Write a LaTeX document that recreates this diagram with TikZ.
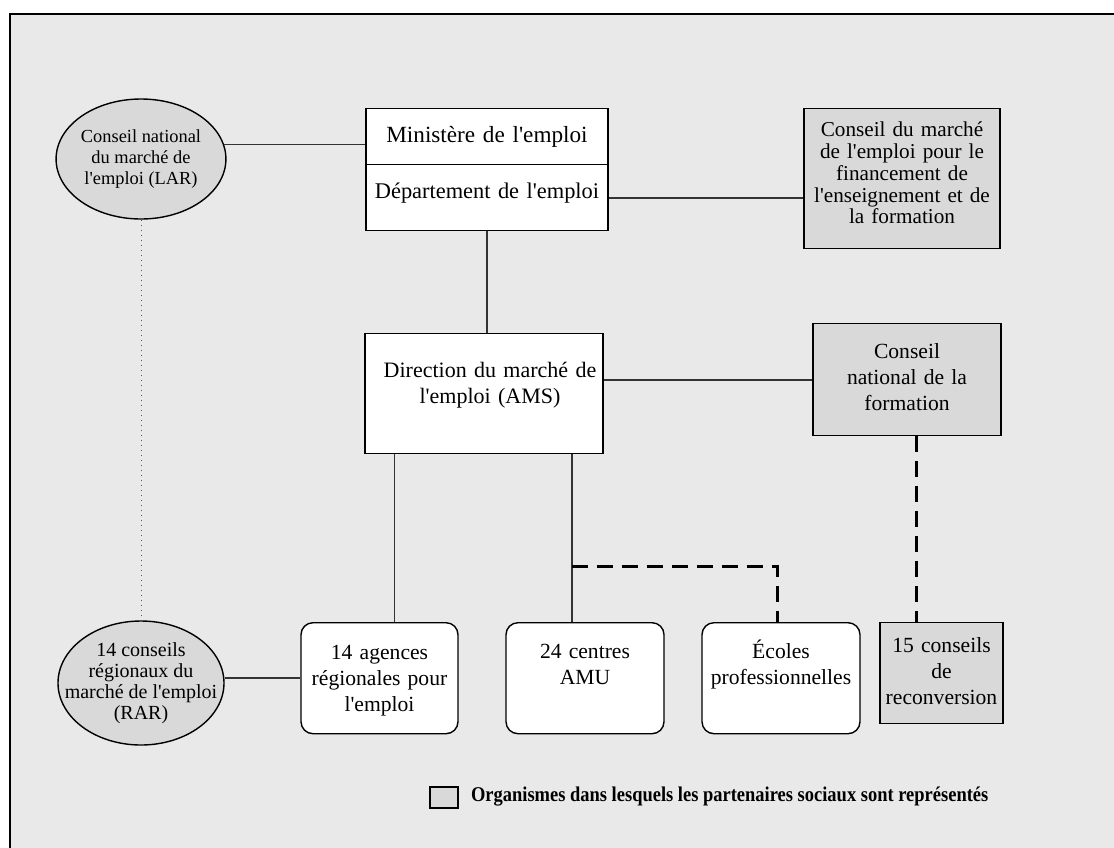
\documentclass[tikz,border=0pt]{standalone}
\usepackage{fontspec}
\setmainfont{Liberation Serif}[Ligatures=TeXOff]
\newfontfamily\keyfont{Liberation Serif}[FakeStretch=0.88, Ligatures=TeXOff]
\usetikzlibrary{shapes.geometric, calc}
\definecolor{cBack}{HTML}{E9E9E9}
\definecolor{cSoc} {HTML}{D9D9D9}
\definecolor{cLine}{HTML}{333333}
\tikzset{
  box/.style={draw=black, line width=0.7pt, anchor=north, align=center,
              inner xsep=0pt, inner ysep=0pt,
              font=\fontsize{10.8}{13}\selectfont},
  dims/.style n args={3}{text width=#1, text height=#2, text depth=#3},
  whitebox/.style={box, fill=white},
  socbox/.style  ={box, fill=cSoc},
  roundbox/.style={whitebox, rounded corners=6pt},
  conseil/.style ={ellipse, draw=black, line width=0.7pt, fill=cSoc,
                   align=center, inner sep=0pt},
  keybox/.style  ={draw=black, line width=0.7pt, fill=cSoc, inner sep=0pt,
                   minimum width=14pt, minimum height=10.5pt},
  link/.style    ={draw=cLine, line width=0.8pt},
  dashlink/.style={draw=black, line width=1.5pt, dash pattern=on 8pt off 4.5pt},
  dotlink/.style ={draw=gray!70!black, line width=0.5pt, dotted},
}

\begin{document}
\begin{tikzpicture}[x=0.5pt, y=-0.5pt]
\useasboundingbox (0,0) rectangle (1114,847);
\clip (0,0) rectangle (1114,847);

% ── Background and frame ──────────────────────────────────────────────────────
\fill[cBack] (10,14) rectangle (1130,870);
\draw[line width=1pt] (10,870) -- (10,14) -- (1130,14);

% ── Top row ───────────────────────────────────────────────────────────────────
\node[conseil, minimum width=84pt, minimum height=60pt,
      font=\fontsize{9.2}{10.5}\selectfont] (lar) at (141,159)
  {Conseil national\\du marché de\\l'emploi (LAR)};

\node[whitebox, dims={121pt}{17pt}{11pt},
      font=\fontsize{11.6}{13}\selectfont] (min) at (487,108)
  {Ministère de l'emploi};

\node[whitebox, dims={121pt}{17pt}{16pt},
      font=\fontsize{11.2}{13}\selectfont] (dep) at (487,164)
  {Département de l'emploi};

\node[socbox, dims={98pt}{14pt}{56pt},
      font=\fontsize{10.6}{10.9}\selectfont] (cme) at (902,108)
  {Conseil du marché\\de l'emploi pour le\\financement de\\l'enseignement et de\\la formation};

% ── Middle row ────────────────────────────────────────────────────────────────
\node[whitebox, dims={119pt}{22pt}{38pt},
      font=\fontsize{11}{13}\selectfont] (dir) at (484,333)
  {\hspace*{6pt}Direction du marché de\\\hspace*{6pt}l'emploi (AMS)};

\node[socbox, dims={94pt}{17.5pt}{38.5pt}] (cnf) at (907,323)
  {Conseil\\national de la\\formation};

% ── Bottom row ────────────────────────────────────────────────────────────────
\node[conseil, minimum width=83pt, minimum height=62pt, inner xsep=-12.4pt,
      font=\fontsize{10}{10.5}\selectfont] (rar) at (141,683)
  {14 conseils\\régionaux du\\marché de l'emploi\\(RAR)};

\node[roundbox, dims={78.5pt}{18.5pt}{37pt}] (agences) at (379.5,622)
  {14 agences\\régionales pour\\l'emploi};

\node[roundbox, dims={79pt}{18pt}{37.5pt}] (centres) at (585,622)
  {24 centres\\AMU\hspace*{4pt}};

\node[roundbox, dims={79pt}{18pt}{37.5pt}] (ecoles) at (781,622)
  {Écoles\\professionnelles};

\node[socbox, dims={61.5pt}{15pt}{35.5pt}] (recon) at (941.5,622)
  {15 conseils\\de\\reconversion};

% ── Connectors ────────────────────────────────────────────────────────────────
\draw[link] (lar.10) -- (lar.10 -| min.west);
\draw[link] (dep.east) -- (dep.east -| cme.west);
\draw[link] (dep.south) -- (dep.south |- dir.north);
\draw[link] (cnf.west) -- (cnf.west -| dir.east);
\draw[dotlink] (lar.south) -- (rar.north);

\coordinate (dirL) at ([xshift=15pt]dir.south west);
\coordinate (dirR) at ([xshift=-16pt]dir.south east);
\coordinate (fork) at ([yshift=-56pt]dirR);
\draw[link] (dirL) -- (dirL |- agences.north);
\draw[link] (dirR) -- (dirR |- centres.north);
\draw[dashlink] (fork) -| ([xshift=-2pt]ecoles.north);
\draw[dashlink] ([xshift=4.5pt]cnf.south) -- ([xshift=4.5pt]cnf.south |- recon.north);
\draw[link] (agences.west) -- (agences.west -| rar.east);

% ── Legend ────────────────────────────────────────────────────────────────────
\node[keybox] (key) at (444,797.5) {};
\node[anchor=west, font=\keyfont\bfseries\fontsize{10.5}{12}\selectfont] (keytxt)
  at (464,797) {Organismes dans lesquels les partenaires sociaux sont représentés};

\end{tikzpicture}
\end{document}
